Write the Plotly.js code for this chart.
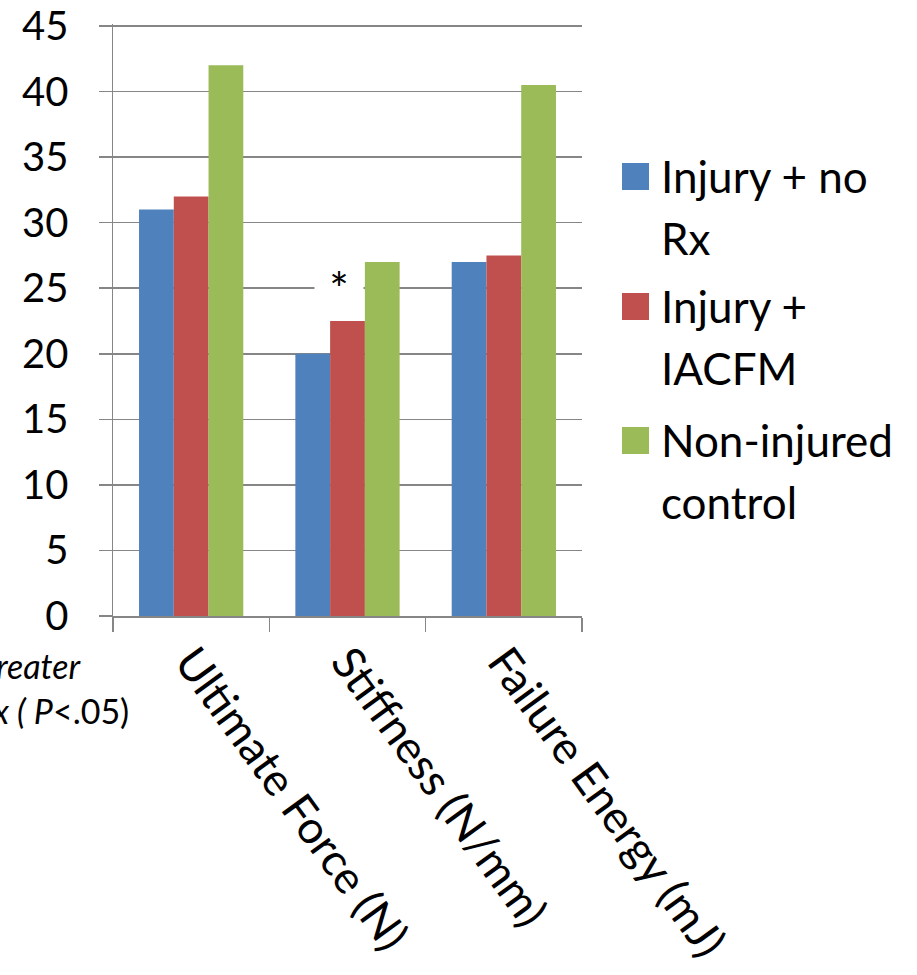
<!DOCTYPE html>
<html>
<head>
<meta charset="utf-8">
<script src="https://cdn.plot.ly/plotly-3.0.1.min.js"></script>
<style>html,body{margin:0;padding:0;background:#fff;}#chart{width:917px;height:975px;}</style>
</head>
<body>
<div id="chart"></div>
<script>
// ---- data ----
var categories = ['Ultimate Force (N)', 'Stiffness (N/mm)', 'Failure Energy (mJ)'];
var seriesNames = ['Injury + no Rx', 'Injury + IACFM', 'Non-injured control'];
var legendLines = [['Injury + no', 'Rx'], ['Injury +', 'IACFM'], ['Non-injured', 'control']];
var injuryNoRx = [31, 20, 27];
var injuryIACFM = [32, 22.5, 27.5];
var nonInjured = [42, 27, 40.5];
var yTicks = [0, 5, 10, 15, 20, 25, 30, 35, 40, 45];
var noteLines = ['<i>*Significantly greater</i>', '<i>than Injury + no Rx ( P</i>&lt;.05)'];
var starLabel = '*';
var starCategory = 'Stiffness (N/mm)';
var starValue = 25.6;

var colors = ['#4F81BD', '#C0504D', '#9BBB59'];
var seriesValues = [injuryNoRx, injuryIACFM, nonInjured];
var FONT = 'Lato, "Open Sans", sans-serif';
var GRAY = '#868686';

var traces = seriesValues.map(function (vals, i) {
  return {
    type: 'bar', x: categories, y: vals, name: seriesNames[i],
    marker: {color: colors[i], line: {width: 0}},
    showlegend: false, hoverinfo: 'x+y'
  };
});

// plot area geometry (px) for paper conversions
var L = 113, R = 582, T = 24, B = 616, W = 917, H = 975;
var YMAX = 45.15;
function px2paperX(px) { return (px - L) / (R - L); }
function px2paperY(py) { return (B - py) / (B - T); }

var shapes = [];
var annotations = [];

// manual legend
var sqTops = [163, 293, 427];
var lineGap = 62;
for (var i = 0; i < seriesNames.length; i++) {
  shapes.push({
    type: 'rect', xref: 'paper', yref: 'paper',
    x0: px2paperX(622), x1: px2paperX(649),
    y0: px2paperY(sqTops[i] + 27), y1: px2paperY(sqTops[i]),
    fillcolor: colors[i], line: {width: 0}
  });
  for (var j = 0; j < legendLines[i].length; j++) {
    annotations.push({
      xref: 'paper', yref: 'paper', x: px2paperX(659), xanchor: 'left',
      y: px2paperY(sqTops[i] + 13 + j * lineGap), yanchor: 'middle',
      text: legendLines[i][j], showarrow: false,
      font: {family: FONT, size: 44, color: '#000'}
    });
  }
}

// significance star
annotations.push({
  x: starCategory, y: starValue, xref: 'x', yref: 'y', xshift: -9, yshift: -8,
  text: starLabel, showarrow: false, bgcolor: '#ffffff', width: 46,
  font: {family: FONT, size: 46, color: '#000'}
});

// footnote (runs off the left edge like the reference)
var noteRight = [83, 131];
var noteMid = [665, 710];
for (var k = 0; k < noteLines.length; k++) {
  annotations.push({
    xref: 'paper', yref: 'paper', x: px2paperX(noteRight[k]), xanchor: 'right',
    y: px2paperY(noteMid[k]), yanchor: 'middle',
    text: noteLines[k], showarrow: false,
    font: {family: FONT, size: 34, color: '#000'}
  });
}

var layout = {
  width: W, height: H,
  margin: {l: L, r: W - R, t: T, b: H - B, pad: 0},
  paper_bgcolor: '#fff', plot_bgcolor: '#fff',
  barmode: 'group', bargap: 0.333, bargroupgap: 0,
  font: {family: FONT, color: '#000'},
  xaxis: {
    type: 'category', tickson: 'boundaries', ticks: 'outside', ticklen: 14,
    tickcolor: GRAY, tickwidth: 1.5, showline: true, linecolor: GRAY, linewidth: 1.5,
    tickangle: 54, tickfont: {family: FONT, size: 45, color: '#000'},
    showgrid: false, zeroline: false, automargin: false
  },
  yaxis: {
    range: [0, YMAX], tickvals: yTicks, ticktext: yTicks.map(String),
    ticks: 'outside', ticklen: 13, tickcolor: GRAY, tickwidth: 1.5,
    showline: true, linecolor: GRAY, linewidth: 1.5, ticklabelstandoff: 22,
    ticklabeloverflow: 'allow',
    showgrid: true, gridcolor: GRAY, gridwidth: 1.5, zeroline: false,
    tickfont: {family: FONT, size: 40, color: '#000'}, automargin: false
  },
  shapes: shapes,
  annotations: annotations,
  showlegend: false
};

Plotly.newPlot('chart', traces, layout, {displayModeBar: false, staticPlot: true});
</script>
</body>
</html>
